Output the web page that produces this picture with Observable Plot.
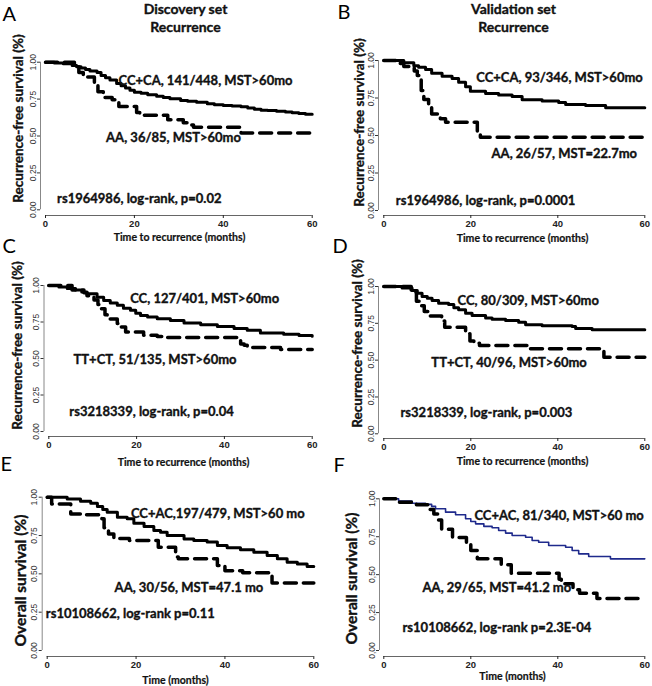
<!DOCTYPE html>
<html><head><meta charset="utf-8">
<script src="https://cdn.jsdelivr.net/npm/d3@7"></script>
<script src="https://cdn.jsdelivr.net/npm/@observablehq/plot@0.6"></script>
<style>
body{margin:0;background:#fff;}
#fig{position:relative;width:652px;height:686px;overflow:hidden;background:#fff;}
#fig > div{position:absolute;}
#fig svg{overflow:visible;}
</style></head><body><div id="fig"></div>
<script>
// ---------- data ----------
const xTicks = [0, 20, 40, 60];
const yTicks = [0, 0.25, 0.5, 0.75, 1];
const yTickLabelsDot = ["0.00", "0.25", "0.50", "0.75", "1.00"];
const yTickLabelsComma = ["0,00", "0,25", "0,50", "0,75", "1,00"];
const panelLetters = ["A", "B", "C", "D", "E", "F"];
const columnTitles = ["Discovery set", "Validation set"];
const columnSubtitle = "Recurrence";
const xTitles = ["Time to recurrence (months)", "Time to recurrence (months)", "Time to recurrence (months)", "Time to recurrence (months)", "Time (months)", "Time (months)"];
const yTitles = ["Recurrence-free survival (%)", "Recurrence-free survival (%)", "Recurrence-free survival (%)", "Recurrence-free survival (%)", "Overall survival (%)", "Overall survival (%)"];

// Kaplan-Meier steps: [months, survival]
const A_CCCA = [[0,1],[2,0.995],[4,0.99],[6,0.977],[7,0.97],[8,0.96],[9,0.95],[10,0.94],[11.6,0.93],[12.5,0.91],[13.5,0.895],[14.5,0.88],[16,0.855],[17,0.84],[18,0.825],[19,0.81],[20,0.797],[21.5,0.79],[23,0.78],[25,0.77],[26.5,0.76],[28,0.752],[30.4,0.74],[32,0.735],[34,0.728],[36.4,0.718],[38,0.712],[40,0.707],[42,0.703],[44,0.698],[45.5,0.69],[47,0.682],[48.5,0.675],[50,0.672],[52,0.668],[54,0.663],[55.5,0.657],[57,0.652],[58.5,0.647],[60,0.647]];
const A_AA = [[0,1],[6.5,0.97],[7.5,0.93],[8.5,0.90],[11,0.85],[11.8,0.80],[13,0.76],[15,0.745],[16.5,0.70],[20.5,0.66],[21.2,0.64],[27.5,0.61],[31,0.59],[32.5,0.575],[33.3,0.56],[44,0.52],[60,0.52]];
const B_CCCA = [[0,1],[4.6,0.985],[6.9,0.965],[8,0.955],[9.6,0.94],[11,0.915],[13.4,0.895],[15.7,0.88],[17.2,0.855],[18.8,0.825],[19.9,0.795],[23.4,0.78],[26.4,0.77],[29.5,0.76],[31.8,0.738],[36.4,0.73],[40.2,0.72],[41.8,0.707],[46.4,0.70],[51,0.685],[60,0.685]];
const B_AA = [[0,1],[3.8,0.98],[4.6,0.96],[7,0.93],[7.7,0.90],[8.6,0.80],[9.2,0.74],[10.3,0.70],[11,0.644],[13,0.611],[14.2,0.589],[21.5,0.522],[22.2,0.489],[60,0.489]];
const C_CC = [[0,1],[2.3,0.99],[4.2,0.98],[6.1,0.97],[7.5,0.955],[8.7,0.943],[11,0.92],[12.5,0.898],[14,0.88],[15.6,0.864],[17,0.845],[18.6,0.83],[19.8,0.81],[20.9,0.795],[22.5,0.785],[24.7,0.773],[27.7,0.761],[30.8,0.743],[34.6,0.732],[38.4,0.72],[42.2,0.705],[45.2,0.693],[48.2,0.675],[53.5,0.666],[57,0.658],[60,0.652]];
const C_TTCT = [[0,1],[5.3,0.97],[8,0.95],[8.7,0.93],[10.3,0.90],[11.2,0.87],[12,0.84],[12.8,0.80],[13.3,0.77],[15.6,0.74],[16.5,0.716],[17.5,0.682],[21.6,0.659],[24.7,0.65],[26.2,0.643],[43.7,0.60],[44.5,0.591],[45.2,0.575],[52.8,0.561],[60,0.561]];
const D_CC = [[0,1],[4.2,0.99],[6.5,0.973],[7.7,0.955],[8.8,0.932],[10,0.92],[11.1,0.905],[12.6,0.887],[14.9,0.878],[16.1,0.855],[17.2,0.842],[18.8,0.819],[20.3,0.803],[23.4,0.787],[24.9,0.778],[28,0.769],[31,0.758],[32.6,0.74],[36.4,0.733],[43.3,0.728],[44.1,0.715],[47.9,0.706],[60,0.706]];
const D_TTCT = [[0,1],[6.3,0.96],[7.5,0.90],[8.5,0.87],[9.3,0.83],[10.3,0.80],[13.3,0.765],[14,0.724],[18.8,0.68],[19.8,0.63],[20.7,0.615],[22,0.60],[33.3,0.577],[50.6,0.52],[60,0.52]];
const E_CCAC = [[0,1],[4.5,0.989],[7.5,0.974],[9.8,0.96],[11.3,0.94],[12.5,0.92],[13.5,0.902],[15.8,0.87],[18,0.86],[19.5,0.83],[21.8,0.809],[24,0.783],[25.5,0.772],[27,0.75],[30.8,0.728],[33,0.717],[36,0.707],[38.3,0.685],[40.5,0.67],[43.5,0.657],[46.5,0.641],[49.5,0.62],[51.8,0.598],[54,0.576],[56.3,0.565],[58.5,0.548],[60,0.548]];
const E_AA = [[0,1],[1,0.955],[5.3,0.89],[8,0.885],[12.3,0.86],[12.8,0.80],[13.8,0.76],[15,0.73],[18.5,0.717],[25,0.674],[28.9,0.61],[29.5,0.598],[38.3,0.555],[40,0.52],[44,0.507],[50.6,0.44],[60,0.44]];
const F_CCAC = [[0,1],[3.4,0.985],[6.5,0.971],[9.6,0.963],[11,0.95],[11.9,0.934],[14.2,0.912],[16.5,0.895],[18.8,0.868],[20,0.85],[21.1,0.835],[23,0.818],[24.9,0.809],[26.4,0.791],[28,0.774],[29.5,0.758],[32.6,0.747],[34.1,0.725],[35.6,0.714],[37.9,0.692],[41.8,0.681],[43.3,0.659],[44.8,0.637],[47.1,0.62],[52.1,0.604],[60,0.604]];
const F_AA = [[0,1],[3,0.978],[7.5,0.96],[10.5,0.93],[11.5,0.90],[12.5,0.86],[13.3,0.80],[15.8,0.745],[19,0.70],[20,0.66],[21.5,0.605],[27,0.565],[29.3,0.51],[40.3,0.47],[40.8,0.44],[43.5,0.40],[45,0.378],[49,0.342],[60,0.342]];

const A_text = ["CC+CA, 141/448, MST>60mo", "AA, 36/85, MST>60mo", "rs1964986, log-rank, p=0.02"];
const B_text = ["CC+CA, 93/346, MST>60mo", "AA, 26/57, MST=22.7mo", "rs1964986, log-rank, p=0.0001"];
const C_text = ["CC, 127/401, MST>60mo", "TT+CT, 51/135, MST>60mo", "rs3218339, log-rank, p=0.04"];
const D_text = ["CC, 80/309, MST>60mo", "TT+CT, 40/96, MST>60mo", "rs3218339, log-rank, p=0.003"];
const E_text = ["CC+AC,197/479, MST>60 mo", "AA, 30/56, MST=47.1 mo", "rs10108662, log-rank p=0.11"];
const F_text = ["CC+AC, 81/340, MST>60 mo", "AA, 29/65, MST=41.2 mo", "rs10108662, log-rank p=2.3E-04"];

// ---------- layout (page pixels; label anchors in data units) ----------
const layout = [
  {box:[0,0,326,245], axisX:40, x0:45, x60:311.7, y1:61.7, y0:209.3, axisY:215, letter:[2,14.5], col:[[185,9],[185,27]], yT:[18,118], xT:[179,237], lab:[[36,0.876],[28.8,0.49],[21.1,0.077]], yFont:13.5},
  {box:[326,0,326,245], axisX:378, x0:383.3, x60:644.3, y1:60, y0:210, axisY:215, letter:[337,12.5], col:[[513,9],[513,27.5]], yT:[359,122], xT:[522,238], lab:[[40.4,0.887],[41.5,0.38],[23.4,0.067]], yFont:13.5},
  {box:[0,232,326,223], axisX:43.5, x0:48.3, x60:311.7, y1:285, y0:431, axisY:436, letter:[2,246.5], yT:[17.5,345], xT:[183,461.7], lab:[[35.5,0.911],[24.2,0.489],[23.4,0.134]], yFont:13.5},
  {box:[326,232,326,223], axisX:378, x0:383.3, x60:644.3, y1:286, y0:433.3, axisY:438, letter:[332,246.5], yT:[357,343], xT:[522,460.7], lab:[[33.2,0.90],[28.8,0.484],[23.6,0.145]], yFont:13.5},
  {box:[0,455,326,231], axisX:41.7, x0:46.7, x60:313.3, y1:496.7, y0:650, axisY:656, letter:[0,464.5], yT:[21,580], xT:[175,680], lab:[[38.4,0.894],[31.9,0.411],[18.7,0.241]], yFont:15.5},
  {box:[326,455,326,231], axisX:379, x0:383.3, x60:644.3, y1:498.3, y0:650, axisY:656, letter:[333,465], yT:[352,578], xT:[512,676.5], lab:[[40.3,0.89],[26,0.415],[26,0.152]], yFont:15.5}
];

const panels = [
  {solid:A_CCCA, dashed:A_AA, text:A_text, solidColor:"#000", solidWidth:3, ticks:yTickLabelsDot},
  {solid:B_CCCA, dashed:B_AA, text:B_text, solidColor:"#000", solidWidth:3, ticks:yTickLabelsDot},
  {solid:C_CC, dashed:C_TTCT, text:C_text, solidColor:"#000", solidWidth:3, ticks:yTickLabelsDot},
  {solid:D_CC, dashed:D_TTCT, text:D_text, solidColor:"#000", solidWidth:3, ticks:yTickLabelsDot},
  {solid:E_CCAC, dashed:E_AA, text:E_text, solidColor:"#000", solidWidth:3, ticks:yTickLabelsDot},
  {solid:F_CCAC, dashed:F_AA, text:F_text, solidColor:"#1f2a8c", solidWidth:1.6, ticks:yTickLabelsComma}
];

const fig = document.getElementById("fig");
const bold = "Lato";
const heavy = {fontFamily: bold, fontWeight: "bold", fill: "#111", stroke: "#111", strokeWidth: 0.35};

panels.forEach((P, i) => {
  const L = layout[i];
  const [left, top, w, h] = L.box;
  const mL = L.axisX - left, inL = L.x0 - L.axisX, mR = left + w - L.x60;
  const mT = L.y1 - top, mB = top + h - L.axisY, inB = L.axisY - L.y0;
  const tlX = L.axisX, tlY = L.y1; // page coords of frame top-left
  const fmt = d => P.ticks[yTicks.indexOf(d)];
  const marks = [
    Plot.ruleY([0], {x1: 0, x2: 60, dy: inB, stroke: "#666", strokeWidth: 1}),
    Plot.ruleX([0], {y1: 0, y2: 1, dx: -inL, stroke: "#888", strokeWidth: 1}),
    Plot.axisX({ticks: xTicks, tickSize: 3, tickPadding: 1.5, fontSize: 9.5, fontWeight: "bold", fontFamily: "Liberation Sans", color: "#222", label: null}),
    Plot.axisY({ticks: yTicks, tickSize: 3, tickRotate: -90, tickPadding: 2, tickFormat: fmt, fontSize: 8.5, fontFamily: "Liberation Sans", color: "#333", label: null}),
    Plot.line(P.solid, {x: d => d[0], y: d => d[1], curve: "step-after", stroke: P.solidColor, strokeWidth: P.solidWidth}),
    Plot.line(P.dashed, {x: d => d[0], y: d => d[1], curve: "step-after", stroke: "#000", strokeWidth: 3.5, strokeDasharray: "12,7"}),
    Plot.text(P.text.map((t, k) => ({t, x: L.lab[k][0], y: L.lab[k][1]})), {x: "x", y: "y", text: "t", ...heavy, fontSize: 13, textAnchor: "middle", lineAnchor: "middle"}),
    Plot.text([panelLetters[i]], {frameAnchor: "top-left", dx: L.letter[0] - tlX, dy: L.letter[1] - tlY, textAnchor: "start", lineAnchor: "middle", fontFamily: "Lato", fontSize: 20, fill: "#000"}),
    Plot.text([yTitles[i]], {frameAnchor: "left", rotate: -90, dx: L.yT[0] - L.axisX, dy: L.yT[1] - (L.y1 + L.axisY) / 2, textAnchor: "middle", lineAnchor: "middle", ...heavy, fontSize: L.yFont}),
    Plot.text([xTitles[i]], {frameAnchor: "bottom", dx: L.xT[0] - (L.axisX + L.x60) / 2, dy: L.xT[1] - L.axisY, textAnchor: "middle", lineAnchor: "middle", ...heavy, strokeWidth: 0.2, fontSize: 10.5})
  ];
  if (L.col) {
    const col = i % 2;
    marks.push(Plot.text([columnTitles[col]], {frameAnchor: "top-left", dx: L.col[0][0] - tlX, dy: L.col[0][1] - tlY, textAnchor: "middle", lineAnchor: "middle", ...heavy, fontSize: 14}));
    marks.push(Plot.text([columnSubtitle], {frameAnchor: "top-left", dx: L.col[1][0] - tlX, dy: L.col[1][1] - tlY, textAnchor: "middle", lineAnchor: "middle", ...heavy, fontSize: 14}));
  }
  const chart = Plot.plot({
    width: w, height: h,
    marginLeft: mL, marginRight: mR, marginTop: mT, marginBottom: mB,
    x: {domain: [0, 60], insetLeft: inL},
    y: {domain: [0, 1], insetBottom: inB},
    style: {background: "transparent", overflow: "visible", fontFamily: "Lato"},
    marks
  });
  const div = document.createElement("div");
  div.style.left = left + "px";
  div.style.top = top + "px";
  div.style.width = w + "px";
  div.style.height = h + "px";
  div.appendChild(chart);
  fig.appendChild(div);
});
</script>
</body></html>
